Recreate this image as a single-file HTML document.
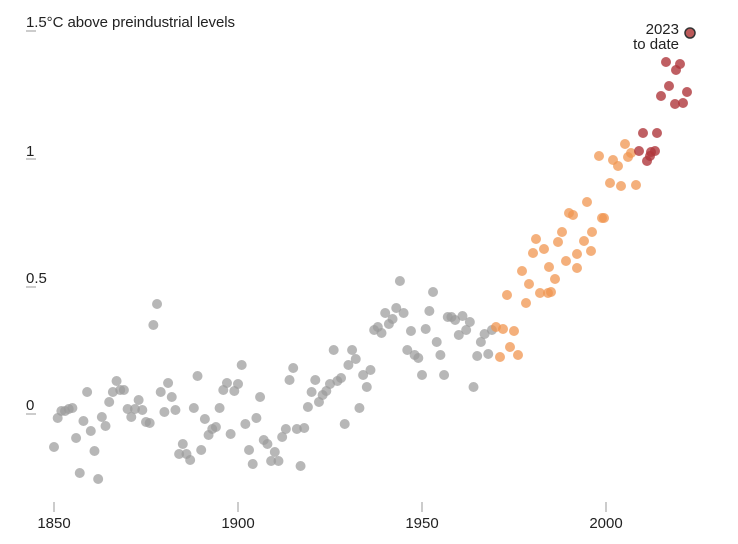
<!DOCTYPE html>
<html><head><meta charset="utf-8"><style>
html,body{margin:0;padding:0;background:#fff;width:738px;height:544px;overflow:hidden}
svg text{font-family:"Liberation Sans",Arial,sans-serif;fill:#222}
</style></head><body>
<svg width="738" height="544" viewBox="0 0 738 544" xmlns="http://www.w3.org/2000/svg">
<text x="26" y="27" font-size="15" textLength="209">1.5°C above preindustrial levels</text>
<line x1="26" y1="31" x2="36" y2="31" stroke="#999"/>
<text x="26" y="156" font-size="15">1</text>
<line x1="26" y1="159" x2="36" y2="159" stroke="#999"/>
<text x="26" y="283" font-size="15">0.5</text>
<line x1="26" y1="287" x2="36" y2="287" stroke="#999"/>
<text x="26" y="410" font-size="15">0</text>
<line x1="26" y1="414" x2="36" y2="414" stroke="#999"/>
<g stroke="#999"><line x1="54" y1="502" x2="54" y2="512"/><line x1="238" y1="502" x2="238" y2="512"/><line x1="422" y1="502" x2="422" y2="512"/><line x1="606" y1="502" x2="606" y2="512"/></g>
<g font-size="15" text-anchor="middle"><text x="54" y="528">1850</text><text x="238" y="528">1900</text><text x="422" y="528">1950</text><text x="606" y="528">2000</text></g>
<g id="d"></g>
<text x="679" y="34" font-size="15" text-anchor="end">2023</text>
<text x="679" y="49" font-size="15" text-anchor="end">to date</text>
</svg>
<script>
var g=document.getElementById('d');
function c(x,y,f,s){var e=document.createElementNS('http://www.w3.org/2000/svg','circle');e.setAttribute('cx',x);e.setAttribute('cy',y);e.setAttribute('r',5);e.setAttribute('fill',f);if(s){e.setAttribute('stroke',s);e.setAttribute('stroke-width',1.5);}g.appendChild(e);}
var grey=[447,418,411,411,409,408,438,473,421,392,431,451,479,417,426,402,392,381,390,390,409,417,409,400,410,422,423,325,304,392,412,383,397,410,454,444,454,460,408,376,450,419,435,429,427,408,390,383,434,391,384,365,424,450,464,418,397,440,444,461,452,461,437,429,380,368,429,466,428,407,392,380,402,395,391,384,350,381,378,424,365,350,359,408,375,387,370,330,327,333,313,324,319,308,281,313,350,331,355,358,375,329,311,292,342,355,375,317,317,320,335,316,330,322,387,356,342,334,354,330];
for(var i=0;i<grey.length;i++)c(54+3.68*i,grey[i],'rgba(155,155,155,0.72)');
var or=[[496,327],[500,357],[503,329],[507,295],[510,347],[514,331],[518,355],[522,271],[526,303],[529,284],[533,253],[536,239],[540,293],[544,249],[548,293],[551,292],[555,279],[549,267],[558,242],[562,232],[566,261],[569,213],[573,215],[577,268],[584,241],[587,202],[591,251],[592,232],[599,156],[602,218],[604,218],[610,183],[613,160],[618,166],[621,186],[625,144],[628,157],[631,153],[636,185],[577,254]];
or.forEach(function(p){c(p[0],p[1],'rgba(240,150,80,0.75)');});
var rd=[[643,133],[657,133],[639,151],[651,152],[655,151],[647,161],[650,156],[661,96],[669,86],[675,104],[683,103],[687,92],[666,62],[676,70],[680,64]];
rd.forEach(function(p){c(p[0],p[1],'rgba(175,55,60,0.8)');});
c(690,33,'rgba(175,60,60,0.85)','#333');
</script>
</body></html>
